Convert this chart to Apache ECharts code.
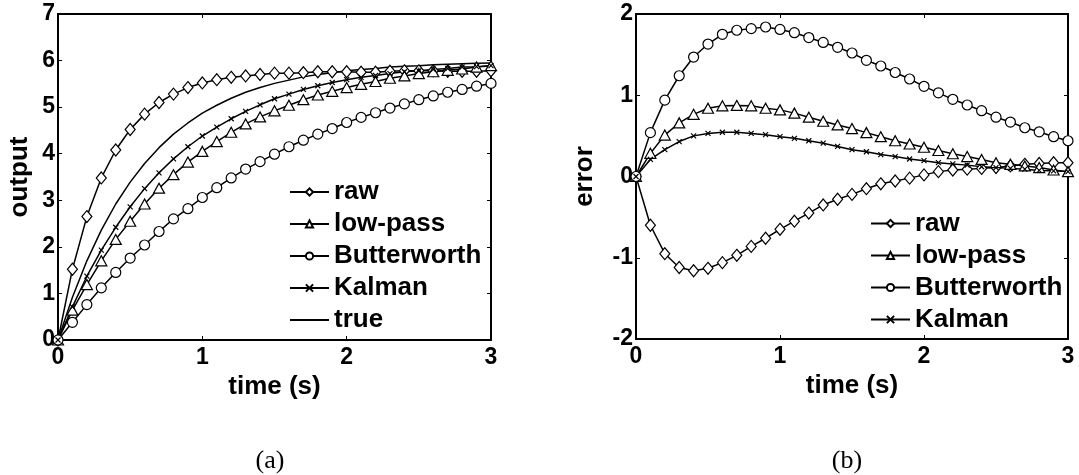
<!DOCTYPE html>
<html>
<head>
<meta charset="utf-8">
<script src="https://cdn.jsdelivr.net/npm/echarts@6/dist/echarts.min.js"></script>
<style>html,body{margin:0;padding:0;background:#fff;}#c{width:1079px;height:475px;}</style>
</head>
<body>
<div id="c"></div>
<script>
const time = [0,0.1,0.2,0.3,0.4,0.5,0.6,0.7,0.8,0.9,1.0,1.1,1.2,1.3,1.4,1.5,1.6,1.7,1.8,1.9,2.0,2.1,2.2,2.3,2.4,2.5,2.6,2.7,2.8,2.9,3.0];
const xTicks = [0,1,2,3];
const yTicksA = [0,1,2,3,4,5,6,7];
const yTicksB = [-2,-1,0,1,2];
const names = ['raw','low-pass','Butterworth','Kalman','true'];

const trueOut = [0,0.92,1.70,2.36,2.92,3.39,3.79,4.13,4.42,4.66,4.87,5.04,5.19,5.32,5.42,5.51,5.58,5.65,5.70,5.74,5.78,5.81,5.83,5.86,5.88,5.89,5.91,5.92,5.93,5.94,5.95];
const rawOut = [0,1.52,2.65,3.48,4.08,4.52,4.85,5.10,5.28,5.42,5.52,5.59,5.64,5.67,5.70,5.73,5.73,5.74,5.76,5.76,5.76,5.75,5.75,5.77,5.78,5.78,5.78,5.77,5.77,5.77,5.78];
const lowOut = [0,0.64,1.19,1.70,2.16,2.55,2.92,3.26,3.55,3.82,4.05,4.26,4.46,4.64,4.79,4.92,5.04,5.16,5.26,5.34,5.42,5.49,5.55,5.62,5.67,5.72,5.76,5.79,5.82,5.86,5.89];
const butOut = [0,0.38,0.76,1.12,1.45,1.76,2.04,2.33,2.60,2.82,3.06,3.27,3.48,3.67,3.83,3.99,4.15,4.29,4.42,4.54,4.67,4.78,4.88,4.98,5.07,5.16,5.24,5.32,5.38,5.45,5.51];
const kalOut = [0,0.71,1.37,1.93,2.42,2.86,3.25,3.59,3.89,4.15,4.38,4.57,4.75,4.91,5.05,5.18,5.28,5.38,5.46,5.53,5.59,5.64,5.68,5.72,5.76,5.78,5.81,5.83,5.86,5.87,5.89];

const rawErr = [0,-0.60,-0.95,-1.12,-1.16,-1.13,-1.06,-0.97,-0.86,-0.76,-0.65,-0.55,-0.45,-0.35,-0.28,-0.22,-0.15,-0.09,-0.055,-0.02,0.02,0.06,0.08,0.09,0.10,0.11,0.13,0.15,0.16,0.17,0.17];
const lowErr = [0,0.285,0.51,0.66,0.765,0.84,0.87,0.875,0.87,0.84,0.82,0.78,0.73,0.68,0.635,0.59,0.54,0.49,0.44,0.40,0.36,0.32,0.28,0.245,0.21,0.17,0.15,0.13,0.11,0.08,0.06];
const butErr = [0,0.54,0.94,1.24,1.47,1.63,1.75,1.80,1.82,1.84,1.81,1.77,1.71,1.65,1.59,1.52,1.43,1.36,1.28,1.20,1.11,1.03,0.95,0.88,0.81,0.73,0.67,0.60,0.55,0.49,0.44];
const kalErr = [0,0.21,0.33,0.43,0.50,0.53,0.545,0.545,0.53,0.515,0.49,0.47,0.44,0.41,0.37,0.33,0.305,0.27,0.245,0.215,0.195,0.17,0.155,0.14,0.12,0.11,0.10,0.09,0.075,0.07,0.06];

const FONT = "'Liberation Sans', Arial, sans-serif";
const pair = arr => arr.map((v, i) => [time[i], v]);
const symbols = {
  'raw': {symbol: 'diamond', symbolSize: [10, 12]},
  'low-pass': {symbol: 'triangle', symbolSize: [11, 10]},
  'Butterworth': {symbol: 'circle', symbolSize: 10},
  'Kalman': {symbol: 'path://M0,0L10,10M10,0L0,10', symbolSize: 5},
  'true': {symbol: 'circle', symbolSize: 1}
};
function mkSeries(name, arr, xi, yi) {
  const s = symbols[name];
  const isTrue = name === 'true';
  return {
    name, type: 'line', xAxisIndex: xi, yAxisIndex: yi,
    data: pair(arr), symbol: s.symbol, symbolSize: s.symbolSize, showSymbol: !isTrue,
    lineStyle: {color: '#000', width: 1.5},
    itemStyle: isTrue ? {color: 'rgba(0,0,0,0)', borderWidth: 0, borderColor: 'rgba(0,0,0,0)'} : {color: '#fff', borderColor: '#000', borderWidth: 1.2},
    emphasis: {disabled: true}, z: 3
  };
}
const tickLab = {color: '#000', fontFamily: FONT, fontWeight: 'bold', fontSize: 23};
const nameSt = {color: '#000', fontFamily: FONT, fontWeight: 'bold', fontSize: 26};
function xAx(grid, pos, show) {
  return {
    type: 'value', gridIndex: grid, position: pos, min: 0, max: 3, interval: 1,
    name: show ? 'time (s)' : '', nameLocation: 'middle', nameGap: 31, nameTextStyle: nameSt,
    axisLine: {show: true, onZero: false, lineStyle: {color: '#000', width: 2}},
    axisTick: {show: true, inside: true, length: 4, lineStyle: {color: '#000', width: 1}},
    axisLabel: show ? Object.assign({margin: 6, formatter: v => xTicks.includes(v) ? String(v) : ''}, tickLab) : {show: false},
    splitLine: {show: false}
  };
}
function yAx(grid, pos, show, min, max, name, gap, ticks) {
  return {
    type: 'value', gridIndex: grid, position: pos, min, max, interval: 1,
    name: show ? name : '', nameLocation: 'middle', nameGap: gap, nameTextStyle: nameSt,
    axisLine: {show: true, onZero: false, lineStyle: {color: '#000', width: 2}},
    axisTick: {show: true, inside: true, length: 4, lineStyle: {color: '#000', width: 1}},
    axisLabel: show ? Object.assign({margin: 3, formatter: v => ticks.includes(v) ? String(v) : ''}, tickLab) : {show: false},
    splitLine: {show: false}
  };
}
const legendBase = {
  orient: 'vertical', itemWidth: 39, itemHeight: 9, itemGap: 6,
  textStyle: {color: '#000', fontFamily: FONT, fontWeight: 'bold', fontSize: 26, lineHeight: 25},
  selectedMode: false, padding: 0
};
const chart = echarts.init(document.getElementById('c'), null, {renderer: 'canvas'});
chart.setOption({
  animation: false,
  backgroundColor: '#fff',
  title: [
    {text: '(a)', left: 265, top: 443, textAlign: 'center', textStyle: {fontFamily: "'Liberation Serif', 'Times New Roman', serif", fontWeight: 'normal', fontSize: 26, color: '#000'}},
    {text: '(b)', left: 842, top: 443, textAlign: 'center', textStyle: {fontFamily: "'Liberation Serif', 'Times New Roman', serif", fontWeight: 'normal', fontSize: 26, color: '#000'}}
  ],
  grid: [
    {left: 58, top: 14, width: 433, height: 326},
    {left: 636, top: 14, width: 432, height: 325}
  ],
  xAxis: [xAx(0, 'bottom', true), xAx(0, 'top', false), xAx(1, 'bottom', true), xAx(1, 'top', false)],
  yAxis: [
    yAx(0, 'left', true, 0, 7, 'output', 25, yTicksA), yAx(0, 'right', false, 0, 7, '', 0, yTicksA),
    yAx(1, 'left', true, -2, 2, 'error', 38, yTicksB), yAx(1, 'right', false, -2, 2, '', 0, yTicksB)
  ],
  legend: [
    Object.assign({left: 289, top: 179, data: names}, legendBase),
    Object.assign({left: 870, top: 210.5, data: names.slice(0, 4)}, legendBase)
  ],
  series: [
    mkSeries('raw', rawOut, 0, 0), mkSeries('low-pass', lowOut, 0, 0), mkSeries('Butterworth', butOut, 0, 0),
    mkSeries('Kalman', kalOut, 0, 0), mkSeries('true', trueOut, 0, 0),
    mkSeries('raw', rawErr, 2, 2), mkSeries('low-pass', lowErr, 2, 2), mkSeries('Butterworth', butErr, 2, 2),
    mkSeries('Kalman', kalErr, 2, 2)
  ]
});
</script>
</body>
</html>
